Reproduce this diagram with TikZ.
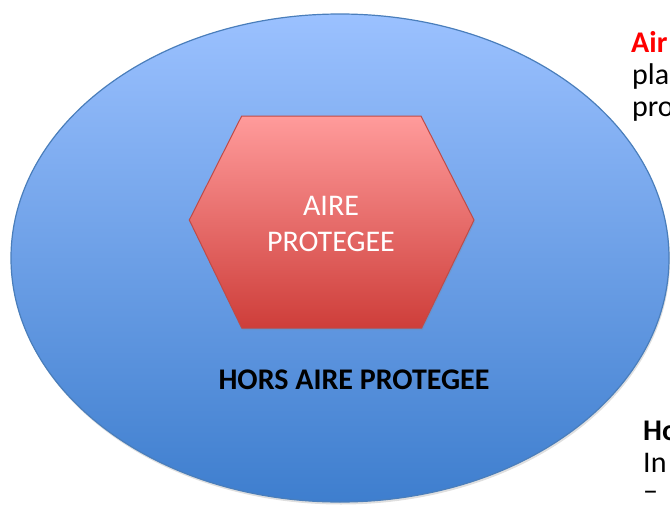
\documentclass[tikz,border=0pt]{standalone}
\usepackage{fontspec}
\setmainfont{Carlito}
\usetikzlibrary{shadows}
\definecolor{elltop}{RGB}{155,193,255}
\definecolor{ellbot}{RGB}{62,126,206}
\definecolor{ellline}{RGB}{74,126,187}
\definecolor{hextop}{RGB}{255,155,155}
\definecolor{hexbot}{RGB}{206,62,58}
\definecolor{hexline}{RGB}{190,75,72}
\definecolor{redtext}{RGB}{255,0,0}
\tikzset{
  ellstyle/.style={draw=ellline, line width=1.2pt, top color=elltop, bottom color=ellbot,
    drop shadow={opacity=0.25, shadow xshift=1pt, shadow yshift=-2.5pt}},
  hexstyle/.style={draw=hexline, line width=1pt, top color=hextop, bottom color=hexbot,
    drop shadow={opacity=0.2, shadow xshift=1pt, shadow yshift=-2pt}},
  hextext/.style={inner sep=0pt, anchor=base, text=white, font=\fontsize{30}{36}\selectfont},
  boldtext/.style={inner sep=0pt, anchor=base, text=black, font=\fontsize{30}{36}\selectfont\bfseries},
  sidetext/.style={inner sep=0pt, anchor=base west, text=black, font=\fontsize{30}{36}\selectfont}
}
\begin{document}
\begin{tikzpicture}[x=1pt,y=-1pt]
\useasboundingbox (0,0) rectangle (670,506);
\clip (0,0) rectangle (670,506);
\path[ellstyle] (340,258) ellipse [x radius=329, y radius=244];
\path[hexstyle] (241.7,116) -- (421,116) -- (474,220) -- (421.7,328) -- (241.7,328) -- (189.3,220) -- cycle;
\node[hextext] (aire) at (331,215) {AIRE};
\node[hextext] (prot) at (331,251) {PROTEGEE};
\node[boldtext] (hors) at (354,389) {HORS AIRE PROTEGEE};
\node[sidetext, text=redtext, font=\fontsize{30}{36}\selectfont\bfseries] (t1) at (631,52) {Air};
\node[sidetext] (t2) at (632,84) {pla};
\node[sidetext] (t3) at (632,116) {pro};
\node[sidetext, font=\fontsize{30}{36}\selectfont\bfseries] (t4) at (643,440) {Ho};
\node[sidetext] (t5) at (643,472) {In};
\node[sidetext] (t6) at (643,500) {–};
\end{tikzpicture}
\end{document}
